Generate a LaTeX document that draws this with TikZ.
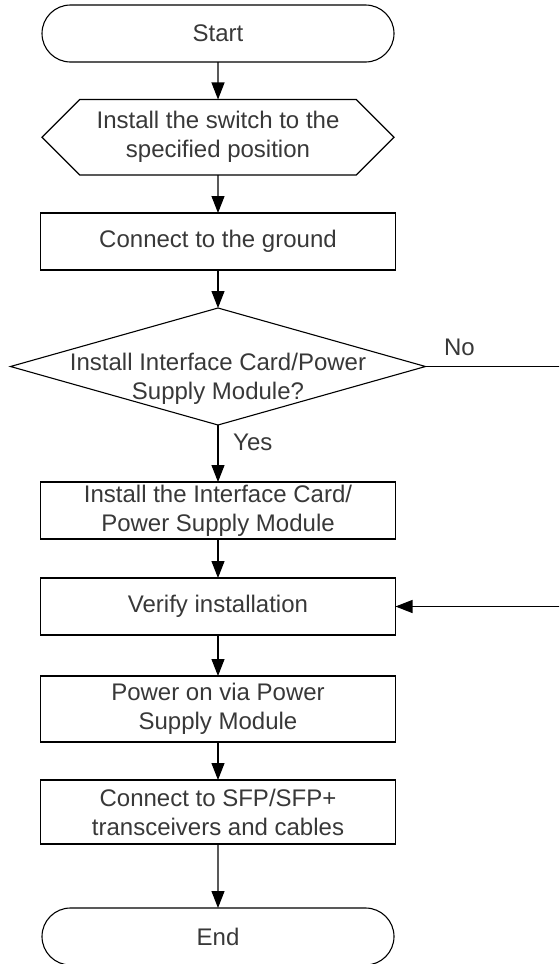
\documentclass[tikz,border=0pt]{standalone}
\usepackage{fontspec}
\setmainfont{Liberation Sans}
\usepackage{tikz}
\usetikzlibrary{arrows.meta,positioning,shapes.geometric,shapes.misc,shapes.symbols}
\definecolor{textgray}{HTML}{383838}

\begin{document}
\begin{tikzpicture}[->,>={Triangle[length=8.5pt,width=6.5pt]},line width=0.55pt,
  font=\fontsize{12}{14.5}\selectfont,
  every node/.append style={text=textgray,align=center},
  term/.style={draw,rounded rectangle,minimum width=176pt,minimum height=28.5pt,inner sep=0pt,outer sep=0pt},
  hexa/.style={draw,signal,signal to=west and east,signal pointer angle=90,minimum width=176pt,minimum height=37.75pt,inner sep=0pt,outer sep=0pt},
  box/.style={draw,rectangle,minimum width=177.5pt,minimum height=28.5pt,inner sep=0pt,outer sep=0pt},
  decision/.style={draw,diamond,minimum width=207.5pt,minimum height=58.5pt,inner sep=0pt,outer sep=0pt}]
%\tikzstyle{every node}=[draw=black,text=black]

\useasboundingbox (0,0) rectangle (279.5pt,-482pt);
\clip (0,0) rectangle (279.5pt,-482pt);

\node[term] (start) at (109pt,-16.75pt) {Start};
\node[hexa] (place) [below=18.75pt of start] {Install the switch to the\\specified position};
\node[box] (ground) [below=19pt of place] {Connect to the ground};
\node[decision,label={[yshift=-6pt]center:{Install Interface Card/Power\\Supply Module?}}] (card) [below=19pt of ground] {};
\node[box] (iface) [below=28.5pt of card] {Install the Interface Card/\\Power Supply Module};
\node[box] (verify) [below=19.5pt of iface] {Verify installation};
\node[box,minimum height=33pt] (power) [below=20.5pt of verify] {Power on via Power\\Supply Module};
\node[box,minimum height=32pt] (sfp) [below=19pt of power] {Connect to SFP/SFP+\\transceivers and cables};
\node[term] (end) [below=32pt of sfp] {End};

\path (start) edge (place);
\path (place) edge (ground);
\path (ground) edge (card);
\path (card) edge node[right=4pt,pos=0.3] {Yes} (iface);
\path (iface) edge (verify);
\path (verify) edge (power);
\path (power) edge (sfp);
\path (sfp) edge (end);
\draw (card.east) -- node[above=2pt,pos=0.236] {No} ++(72pt,0) |- (verify.east);
\end{tikzpicture}
\end{document}
